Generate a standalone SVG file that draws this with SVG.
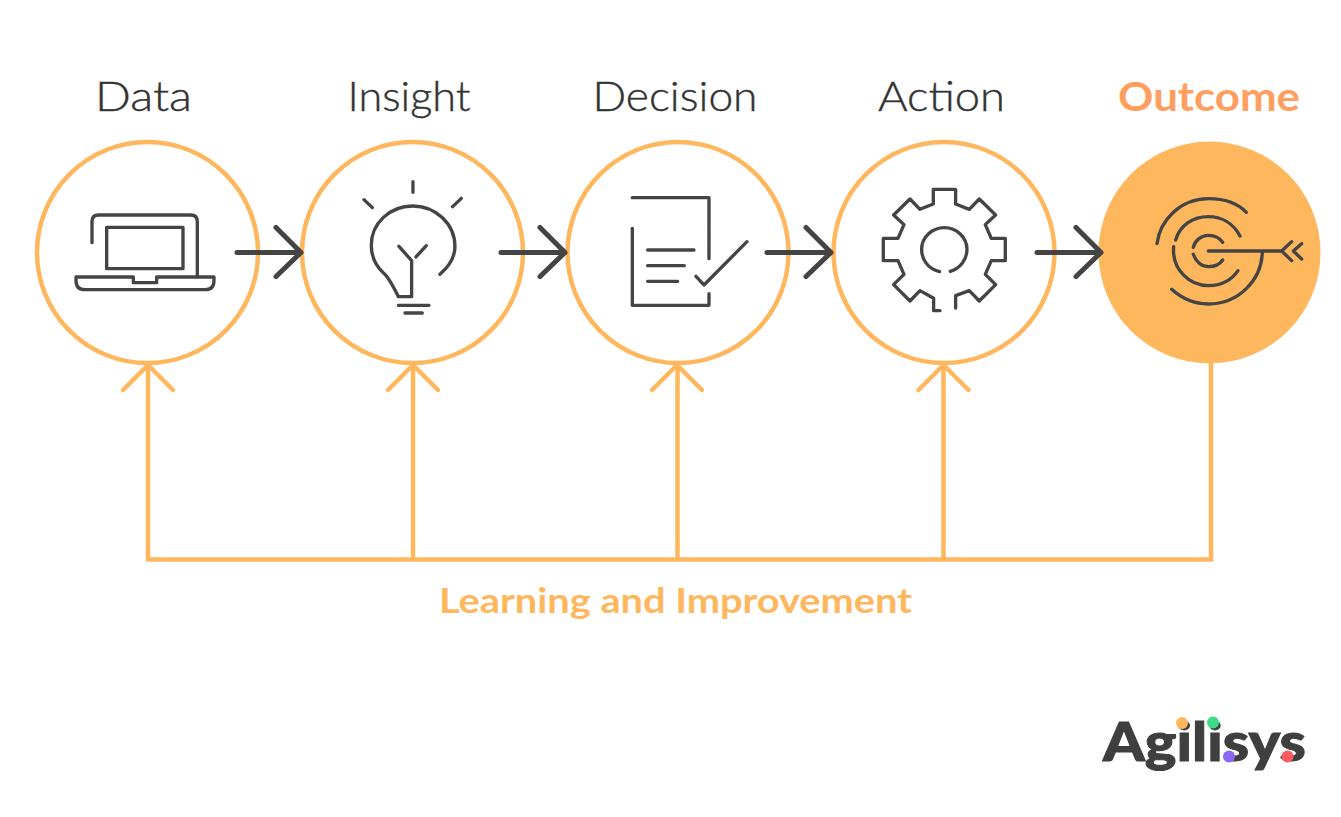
<svg xmlns="http://www.w3.org/2000/svg" width="1341" height="817" viewBox="0 0 1341 817">
<style>
.ring{fill:#fff;stroke:#ffb75e;stroke-width:4.500}
.ic{fill:none;stroke:#444;stroke-width:10;stroke-linecap:round;stroke-linejoin:round}
.lbl{font-family:"Lato","Open Sans",sans-serif;font-size:41px;font-weight:300;fill:#333;stroke:#333;stroke-width:.4;text-anchor:middle}
.dark{fill:none;stroke:#444;stroke-width:5;stroke-linecap:round;stroke-linejoin:round}
.fb{fill:none;stroke:#ffb75e;stroke-width:4.500;stroke-linecap:round;stroke-linejoin:round}
</style>
<defs>
<g id="darrow"><path class="dark" d="M0 0H64M39-25L64 0L39 24"/></g>
<g id="farrow"><path class="fb" d="M-25 25L0 0L25 25"/></g>
</defs>
<g id="n-data">
<circle class="ring" cx="147.500" cy="252.500" r="110.500"/>
<g transform="translate(30 130) scale(.3333)"><path class="ic" d="M186 338V275Q186 255 206 255H482Q502 255 502 275V438M230 292H459V416H230ZM138 441H310V458H380V441H552V452Q552 479 525 479H165Q138 479 138 452Z"/></g>
<text class="lbl" x="143.500" y="111" textLength="97" lengthAdjust="spacingAndGlyphs">Data</text>
</g>
<g id="n-insight">
<circle class="ring" cx="412.500" cy="252.500" r="110.500"/>
<g transform="translate(30 130) scale(.3333)"><path class="ic" d="M1149 155V187M1002 209L1027 233M1294 205L1268 230M1230 433C1262 405 1275 380 1275 350C1275 280 1215 228 1148 228C1080 228 1024 280 1024 345C1024 385 1040 410 1060 428C1080 445 1095 480 1105 500H1145V392L1107 349M1158 381L1189 347M1105 526H1197M1125 549H1177"/></g>
<text class="lbl" x="409" y="111" textLength="123" lengthAdjust="spacingAndGlyphs">Insight</text>
</g>
<g id="n-decision">
<circle class="ring" cx="678" cy="252.500" r="110.500"/>
<g transform="translate(560 130) scale(.3333)"><path class="ic" d="M217 203H447V386M217 295V526H447V491M263 360H402M263 407H373M263 454H353M408 439L432 465L561 335"/></g>
<text class="lbl" x="675" y="111" textLength="165" lengthAdjust="spacingAndGlyphs">Decision</text>
</g>
<g id="n-action">
<circle class="ring" cx="944" cy="252.500" r="110.500"/>
<g transform="translate(560 130) scale(.3333)"><path class="ic" d="M1140 542H1121V505L1080 482L1050 513L1001 464L1032 433L1014 392H970V325H1014L1032 284L1001 255L1050 207L1080 238L1120 222V178H1187V222L1228 238L1258 207L1307 255L1276 284L1294 325H1336V392H1294L1276 433L1307 464L1258 513L1228 482L1187 497V534M1139 425C1100 415 1085 385 1085 358C1085 320 1118 293 1153 293C1190 293 1221 322 1221 358C1221 390 1200 415 1171 424"/></g>
<text class="lbl" x="941.500" y="111" textLength="127" lengthAdjust="spacingAndGlyphs">Action</text>
</g>
<g id="n-outcome">
<circle cx="1209.500" cy="252.500" r="111" fill="#ffb75e"/>
<g transform="translate(1030 130) scale(.3333)"><path class="ic" d="M381 341C390 270 450 207 535 206C585 206 625 222 649 247M437 330C450 285 490 260 535 260C575 260 610 280 630 318M431 350C425 420 480 467 535 467C575 467 605 450 624 422M490 352C495 330 515 316 535 316C555 316 570 325 578 337M490 373C497 395 515 410 535 410C555 410 570 402 578 390M425 478C455 505 495 522 535 522C625 522 697 450 697 363M535 363H755M785 335L755 363L785 392M815 341L790 363L815 387"/></g>
<text x="1209" y="111" font-family="Lato,'Open Sans',sans-serif" font-size="41" font-weight="700" fill="#ff9e5e" text-anchor="middle" textLength="182" lengthAdjust="spacingAndGlyphs">Outcome</text>
</g>
<g id="connectors">
<use href="#darrow" x="237" y="252.500"/>
<use href="#darrow" x="501" y="252.500"/>
<use href="#darrow" x="767" y="252.500"/>
<use href="#darrow" x="1037" y="252.500"/>
<path d="M148 365V559.500M413 365V559.500M677.500 365V559.500M943.500 365V559.500M1211 363V561M146 559.500H1213" fill="none" stroke="#ffb75e" stroke-width="4.500"/>
<use href="#farrow" x="148" y="365"/>
<use href="#farrow" x="413" y="365"/>
<use href="#farrow" x="677" y="365"/>
<use href="#farrow" x="943.500" y="365"/>
</g>
<text id="feedback-label" x="675.500" y="613" font-family="Lato,'Open Sans',sans-serif" font-size="35" font-weight="700" fill="#ffb75e" text-anchor="middle" textLength="473" lengthAdjust="spacingAndGlyphs">Learning and Improvement</text>
<g id="logo">
<text x="1103" y="761" font-family="Lato,sans-serif" font-size="53" font-weight="900" fill="#3f3f3f" stroke="#3f3f3f" stroke-width="1" textLength="203" lengthAdjust="spacingAndGlyphs">Agilisys</text>
<circle cx="1182" cy="723" r="6" fill="#ffb75e"/>
<circle cx="1213" cy="722.500" r="6" fill="#3ddc84"/>
<circle cx="1229" cy="756.500" r="6" fill="#8c66f5"/>
<circle cx="1287.500" cy="756.500" r="6" fill="#ff5a5f"/>
</g>
</svg>
